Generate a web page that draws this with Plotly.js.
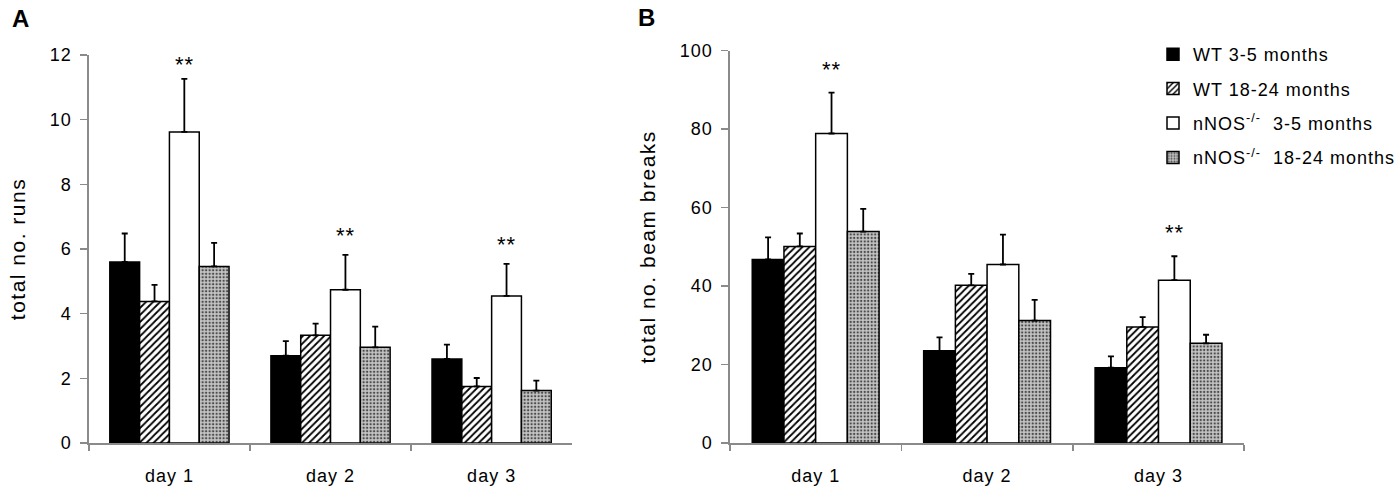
<!DOCTYPE html>
<html>
<head>
<meta charset="utf-8">
<script src="https://cdn.plot.ly/plotly-3.0.1.min.js"></script>
<style>
  body { margin: 0; background: #fff; }
  #chart { width: 1400px; height: 489px; }
  svg text { letter-spacing: 1px; }
  svg .ytitle, svg .y2title { letter-spacing: 1.5px; }
</style>
</head>
<body>
<div id="chart"></div>
<script>
// ---- data ----
const days = ['day 1', 'day 2', 'day 3'];
const groupNames = ['WT 3-5 months', 'WT 18-24 months',
  'nNOS<sup>-/-</sup>\u00a0 3-5 months', 'nNOS<sup>-/-</sup>\u00a0 18-24 months'];

// Panel A: total no. runs (mean, upper SEM)
const runsWTYoung = [5.6, 2.7, 2.6];
const runsWTYoungSem = [0.88, 0.45, 0.44];
const runsWTOld = [4.38, 3.33, 1.75];
const runsWTOldSem = [0.51, 0.36, 0.26];
const runsKOYoung = [9.62, 4.74, 4.55];
const runsKOYoungSem = [1.64, 1.08, 0.99];
const runsKOOld = [5.46, 2.96, 1.62];
const runsKOOldSem = [0.73, 0.64, 0.31];

// Panel B: total no. beam breaks (mean, upper SEM)
const beamWTYoung = [46.8, 23.5, 19.2];
const beamWTYoungSem = [5.6, 3.4, 2.9];
const beamWTOld = [50.1, 40.2, 29.6];
const beamWTOldSem = [3.3, 2.9, 2.5];
const beamKOYoung = [78.9, 45.5, 41.5];
const beamKOYoungSem = [10.4, 7.6, 6.1];
const beamKOOld = [53.9, 31.2, 25.4];
const beamKOOldSem = [5.8, 5.3, 2.2];

// significance marks (over nNOS-/- 3-5 months bars)
const runsStarDays = ['day 1', 'day 2', 'day 3'];
const runsStarY = [11.76, 6.47, 6.21];
const beamStarDays = ['day 1', 'day 3'];
const beamStarY = [95.6, 54.1];

const yTicksRuns = [0, 2, 4, 6, 8, 10, 12];
const yTicksBeam = [0, 20, 40, 60, 80, 100];

// ---- styles ----
const W = 1400, H = 489;
const axisGray = '#8a8a8a';
const fontFam = '"Liberation Sans", Arial, sans-serif';
const bargap = 0.26;

const styles = [
  { color: '#000000' },
  { color: '#ffffff', pattern: { shape: '/', fgcolor: '#000000', bgcolor: '#ffffff', size: 5, solidity: 0.36 } },
  { color: '#ffffff' },
  { color: '#a8a8a8', pattern: { shape: '.', fgcolor: '#4a4a4a', bgcolor: '#c4c4c4', size: 3.5, solidity: 0.35 } }
];

function bar(name, i, y, sem, xa, ya, showLegend) {
  const m = { color: styles[i].color, line: { color: '#000', width: 1.5 } };
  if (styles[i].pattern) m.pattern = Object.assign({ fillmode: 'replace' }, styles[i].pattern);
  return {
    type: 'bar', name: name, x: days, y: y,
    xaxis: xa, yaxis: ya,
    marker: m,
    legendgroup: 'g' + i, showlegend: showLegend,
    error_y: { type: 'data', symmetric: false, array: sem, arrayminus: sem.map(() => 0),
               color: '#000', thickness: 1.8, width: 3 },
    hoverinfo: 'skip'
  };
}

const runsY = [runsWTYoung, runsWTOld, runsKOYoung, runsKOOld];
const runsS = [runsWTYoungSem, runsWTOldSem, runsKOYoungSem, runsKOOldSem];
const beamY = [beamWTYoung, beamWTOld, beamKOYoung, beamKOOld];
const beamS = [beamWTYoungSem, beamWTOldSem, beamKOYoungSem, beamKOOldSem];

const traces = [];
for (let i = 0; i < 4; i++) traces.push(bar(groupNames[i], i, runsY[i], runsS[i], 'x', 'y', false));
for (let i = 0; i < 4; i++) traces.push(bar(groupNames[i], i, beamY[i], beamS[i], 'x2', 'y2', true));

// plot geometry (pixels)
const A = { x0: 89, x1: 573, yTop: 55, yBot: 443 };
const B = { x0: 731, x1: 1246, yTop: 50.7, yBot: 443 };

function xAxis(p, anchor) {
  return {
    domain: [p.x0 / W, p.x1 / W], anchor: anchor, type: 'category',
    showline: true, linecolor: axisGray, linewidth: 1.5,
    ticks: 'outside', tickson: 'boundaries', ticklen: 6, tickwidth: 1.5, tickcolor: axisGray,
    tickfont: { family: fontFam, size: 18, color: '#000' }, ticklabelstandoff: 16,
    showgrid: false, zeroline: false, fixedrange: true
  };
}
function yAxis(p, anchor, range, tickvals, title) {
  return {
    domain: [1 - p.yBot / H, 1 - p.yTop / H], anchor: anchor, range: range,
    tickvals: tickvals, ticktext: tickvals.map(String),
    showline: true, linecolor: axisGray, linewidth: 1.5,
    ticks: 'outside', ticklen: 7, tickwidth: 1.5, tickcolor: axisGray,
    tickfont: { family: fontFam, size: 18, color: '#000' }, ticklabelstandoff: 5,
    showgrid: false, zeroline: false, fixedrange: true,
    title: { text: title, font: { family: fontFam, size: 21, color: '#000' }, standoff: 18 }
  };
}

// x-offset of the 3rd bar (nNOS-/- 3-5 months) from the category center
function thirdBarShift(p) {
  const cat = (p.x1 - p.x0) / days.length;
  const bw = cat * (1 - bargap) / 4;
  return bw / 2;
}

const annotations = [];
runsStarDays.forEach((d, k) => annotations.push({
  x: d, y: runsStarY[k], xref: 'x', yref: 'y', text: '**', showarrow: false,
  xshift: thirdBarShift(A), yshift: -2, yanchor: 'middle',
  font: { family: fontFam, size: 22, color: '#000' }
}));
beamStarDays.forEach((d, k) => annotations.push({
  x: d, y: beamStarY[k], xref: 'x2', yref: 'y2', text: '**', showarrow: false,
  xshift: thirdBarShift(B), yshift: -2, yanchor: 'middle',
  font: { family: fontFam, size: 22, color: '#000' }
}));
annotations.push({ text: '<b>A</b>', xref: 'paper', yref: 'paper', x: 10 / W, y: 1 - 3 / H,
  xanchor: 'left', yanchor: 'top', showarrow: false, font: { family: fontFam, size: 24, color: '#000' } });
annotations.push({ text: '<b>B</b>', xref: 'paper', yref: 'paper', x: 637 / W, y: 1 - 2 / H,
  xanchor: 'left', yanchor: 'top', showarrow: false, font: { family: fontFam, size: 24, color: '#000' } });

const layout = {
  width: W, height: H,
  margin: { l: 0, r: 0, t: 0, b: 0 },
  paper_bgcolor: '#fff', plot_bgcolor: 'rgba(0,0,0,0)',
  barmode: 'group', bargap: bargap, bargroupgap: 0,
  font: { family: fontFam, color: '#000' },
  xaxis: xAxis(A, 'y'),
  yaxis: yAxis(A, 'x', [0, 12], yTicksRuns, 'total no. runs'),
  xaxis2: xAxis(B, 'y2'),
  yaxis2: yAxis(B, 'x2', [0, 100], yTicksBeam, 'total no. beam breaks'),
  showlegend: true,
  legend: {
    x: 1155 / W, xanchor: 'left', y: 1 - 36 / H, yanchor: 'top',
    font: { family: fontFam, size: 18, color: '#000' },
    traceorder: 'grouped', tracegroupgap: 8, bgcolor: 'rgba(0,0,0,0)', borderwidth: 0
  },
  annotations: annotations
};

Plotly.newPlot('chart', traces, layout, { staticPlot: true, displayModeBar: false });
</script>
</body>
</html>
